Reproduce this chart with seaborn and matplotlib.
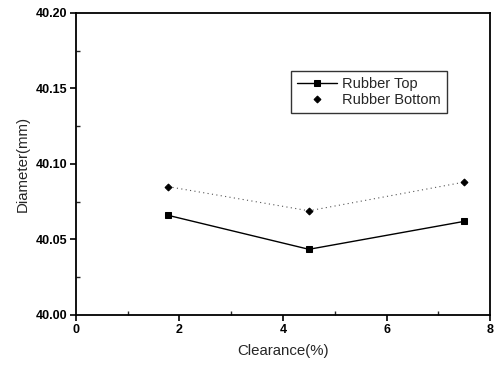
import matplotlib
matplotlib.use("Agg")
import matplotlib.pyplot as plt
import seaborn as sns
import pandas as pd
from matplotlib.ticker import MultipleLocator

clearance = [1.78, 4.5, 7.5]
rubber_top = [40.066, 40.0435, 40.062]
rubber_bottom = [40.085, 40.069, 40.088]

sns.set_style("ticks")
plt.rcParams['font.family'] = ['Liberation Sans', 'DejaVu Sans']

fig = plt.figure(figsize=(4.95, 3.67), dpi=100)
ax = fig.add_axes([0.1535, 0.1417, 0.8365, 0.8229])

df_top = pd.DataFrame({"x": clearance, "y": rubber_top})
df_bot = pd.DataFrame({"x": clearance, "y": rubber_bottom})

sns.lineplot(data=df_top, x="x", y="y", ax=ax, color="black", lw=1.0,
             marker="s", markersize=5, markeredgecolor="black", label="Rubber Top")
sns.lineplot(data=df_bot, x="x", y="y", ax=ax, color="#555555", lw=0.8,
             linestyle=(0, (1, 3)), marker="D", markersize=3.5,
             markerfacecolor="black", markeredgecolor="black", label="Rubber Bottom")

ax.set_xlim(0, 8)
ax.set_ylim(40.00, 40.20)
ax.xaxis.set_major_locator(MultipleLocator(2))
ax.xaxis.set_minor_locator(MultipleLocator(1))
ax.yaxis.set_major_locator(MultipleLocator(0.05))
ax.yaxis.set_minor_locator(MultipleLocator(0.025))
ax.yaxis.set_major_formatter(matplotlib.ticker.FormatStrFormatter("%.2f"))

ax.tick_params(axis="both", which="major", direction="out", length=4, width=1.2,
               labelsize=9, colors="black", pad=2.5)
ax.tick_params(axis="both", which="minor", direction="in", length=3, width=1.0)
for lab in ax.get_xticklabels() + ax.get_yticklabels():
    lab.set_fontweight("bold")

for s in ax.spines.values():
    s.set_linewidth(1.3)
    s.set_color("black")

ax.set_xlabel("Clearance(%)", fontsize=10.8, labelpad=6)
ax.set_ylabel("Diameter(mm)", fontsize=10.8, labelpad=4)

leg = ax.legend(loc="upper left", bbox_to_anchor=(0.52, 0.807), frameon=True,
                fancybox=False, edgecolor="black", fontsize=10.5, borderpad=0.4,
                handlelength=2.7, labelspacing=0.15, handletextpad=0.4,
                borderaxespad=0.0)
leg.get_frame().set_linewidth(1.0)
leg.get_lines()[1].set_linestyle("none")

fig.savefig("out.png", dpi=100)
